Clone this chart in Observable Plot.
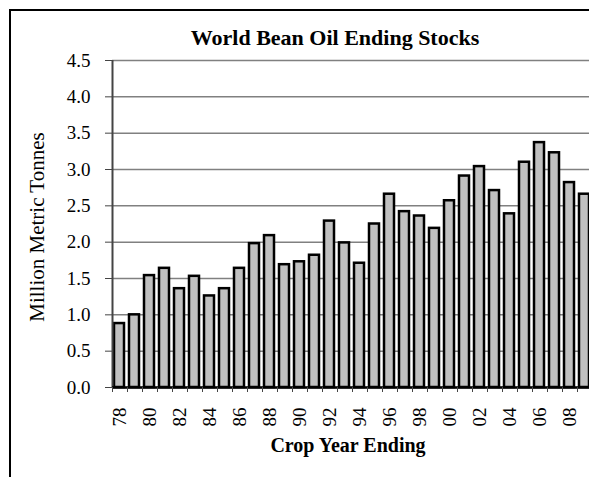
<!DOCTYPE html>
<html>
<head>
<meta charset="utf-8">
<script src="https://cdn.jsdelivr.net/npm/d3@7"></script>
<script src="https://cdn.jsdelivr.net/npm/@observablehq/plot@0.6"></script>
<style>
  html, body { margin: 0; padding: 0; background: #fff; overflow: hidden; width: 589px; height: 477px; }
  #wrap { position: relative; width: 589px; height: 477px; overflow: hidden; }
  #chart { position: absolute; left: 0; top: 0; width: 589px; height: 477px; }
  #chart svg { overflow: hidden; }
  #border { position: absolute; left: 9px; top: 9px; width: 580px; height: 468px; border-left: 2.5px solid #000; border-top: 2.5px solid #000; box-sizing: border-box; pointer-events: none; }
</style>
</head>
<body>
<div id="wrap"><div id="chart"></div><div id="border"></div></div>
<script>
const title = "World Bean Oil Ending Stocks";
const yTitle = "Million Metric Tonnes";
const xTitle = "Crop Year Ending";
const years = [1978, 1979, 1980, 1981, 1982, 1983, 1984, 1985, 1986, 1987, 1988, 1989, 1990, 1991, 1992, 1993,
               1994, 1995, 1996, 1997, 1998, 1999, 2000, 2001, 2002, 2003, 2004, 2005, 2006, 2007, 2008, 2009];
const stocks = [0.88, 1.00, 1.54, 1.64, 1.36, 1.53, 1.26, 1.36, 1.64, 1.98, 2.09, 1.69, 1.73, 1.82, 2.29, 1.99,
                1.71, 2.25, 2.66, 2.42, 2.36, 2.19, 2.57, 2.91, 3.04, 2.71, 2.39, 3.10, 3.37, 3.23, 2.82, 2.66];
const xTickYears = [1978, 1980, 1982, 1984, 1986, 1988, 1990, 1992, 1994, 1996, 1998, 2000, 2002, 2004, 2006, 2008];
const xTickLabels = ["78", "80", "82", "84", "86", "88", "90", "92", "94", "96", "98", "00", "02", "04", "06", "08"];
const yTicks = [0.0, 0.5, 1.0, 1.5, 2.0, 2.5, 3.0, 3.5, 4.0, 4.5];

const data = years.map((year, i) => ({year, value: stocks[i]}));
const boundaries = years.concat([years[years.length - 1] + 1]);
const labelAt = new Map(xTickYears.map((y, i) => [y + 0.5, xTickLabels[i]]));

const serif = "'Liberation Serif', 'Times New Roman', Times, serif";

const chart = Plot.plot({
  width: 589,
  height: 477,
  marginLeft: 112,
  marginRight: 0,
  marginTop: 60,
  marginBottom: 90,
  style: {fontFamily: serif, fontSize: "19px", background: "transparent", color: "#000", overflow: "hidden"},
  x: {type: "linear", domain: [years[0], years[years.length - 1] + 1], range: [112, 592]},
  y: {domain: [yTicks[0], yTicks[yTicks.length - 1]]},
  marks: [
    Plot.gridY({ticks: yTicks, stroke: "#808080", strokeOpacity: 1, strokeWidth: 1.5}),
    Plot.rectY(data, {x1: "year", x2: d => d.year + 1, y: "value", fill: "#c0c0c0", stroke: "#000", strokeWidth: 2.5, insetLeft: 2, insetRight: 3}),
    Plot.ruleX([years[0]], {stroke: "#444", strokeWidth: 2}),
    Plot.ruleY([0], {stroke: "#000", strokeWidth: 2.5}),
    Plot.axisY({ticks: yTicks, tickFormat: d3.format(".1f"), tickSize: 7, tickPadding: 15, fontSize: 19, label: null, stroke: "#444"}),
    Plot.axisX({ticks: boundaries, tickFormat: () => "", tickSize: 5, label: null, stroke: "#444"}),
    Plot.axisX({ticks: xTickYears.map(y => y + 0.5), tickFormat: d => labelAt.get(d), tickSize: 0, tickPadding: 20, tickRotate: -90, fontSize: 19, label: null}),
    Plot.text([title], {frameAnchor: "top", dx: -16, dy: -16, lineAnchor: "bottom", fontWeight: "bold", fontSize: 22, fill: "#000"}),
    Plot.text([xTitle], {frameAnchor: "bottom", dx: -3, dy: 64, lineAnchor: "bottom", fontWeight: "bold", fontSize: 20, fill: "#000"}),
    Plot.text([yTitle], {frameAnchor: "left", dx: -75, dy: 3, rotate: -90, textAnchor: "middle", lineAnchor: "middle", fontSize: 21, fill: "#000"})
  ]
});
document.getElementById("chart").appendChild(chart);
</script>
</body>
</html>
